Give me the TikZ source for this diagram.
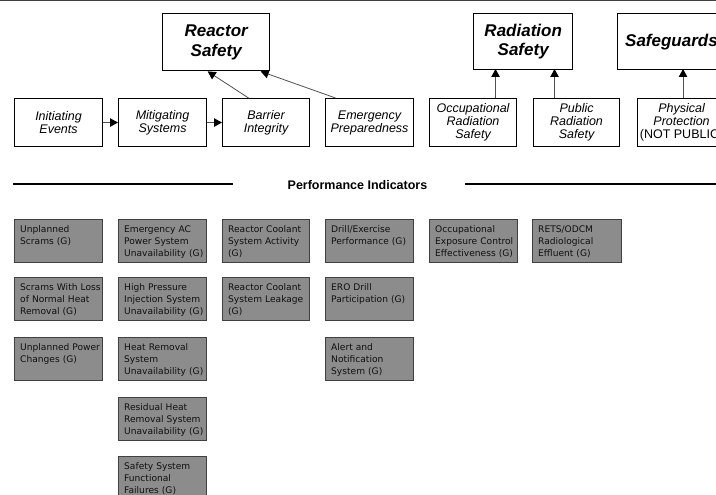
\documentclass[tikz,border=0pt]{standalone}
\usepackage{fontspec}
\setmainfont{Liberation Sans}
\newfontfamily\gfont{DejaVu Sans}
\usetikzlibrary{arrows.meta,calc}
\definecolor{gfill}{HTML}{8C8C8C}
\definecolor{gline}{HTML}{404040}
\definecolor{aline}{HTML}{505050}
\definecolor{gtxt}{HTML}{101010}
\begin{document}
\begin{tikzpicture}[x=1pt,y=-1pt,
  topbox/.style={draw=black,line width=1.4pt,fill=white,anchor=north west,inner sep=0pt},
  toptext/.style={font=\fontsize{17}{19.5}\selectfont\bfseries\itshape,align=center,inner sep=0pt},
  midbox/.style={draw=black,line width=1.1pt,fill=white,anchor=north west,inner sep=0pt,minimum height=48pt},
  midtext/.style={font=\fontsize{12.5}{13}\selectfont\itshape,align=center,inner sep=0pt},
  gbox/.style={draw=gline,line width=0.9pt,fill=gfill,anchor=north west,inner sep=0pt,minimum height=43pt},
  gtext/.style={font=\gfont\fontsize{9.1}{12}\selectfont,text=gtxt,anchor=base west,inner sep=0pt,text width=100pt,align=left},
  upar/.style={draw=aline,line width=0.8pt,-{Triangle[length=8pt,width=8.5pt,color=black]}},
  rule/.style={draw=black,line width=1.2pt}
]
\useasboundingbox (0,0) rectangle (716,495);
\clip (0,0) rectangle (716,495);
\draw[draw=gline,line width=1.5pt] (0,0.5) -- (716,0.5);
% top boxes
\node[topbox,minimum width=107pt,minimum height=57pt] (rs) at (162,13) {};
\node[toptext] (rst) at (rs.center) {Reactor\\Safety};
\node[topbox,minimum width=99pt,minimum height=56pt] (ras) at (473,13) {};
\node[toptext] (rast) at (ras.center) {Radiation\\Safety};
\node[topbox,minimum width=112pt,minimum height=56pt] (sg) at (617,13) {};
\node[toptext,anchor=west] (sgt) at ($(sg.west)+(8,0)$) {Safeguards};
% middle boxes
\node[midbox,minimum width=88pt] (ie) at (14,98) {};
\node[midtext] (iet) at (ie.center) {Initiating\\Events};
\node[midbox,minimum width=88pt] (ms) at (118,98) {};
\node[midtext] (mst) at (ms.center) {Mitigating\\Systems};
\node[midbox,minimum width=87pt] (bi) at (222,98) {};
\node[midtext] (bit) at (bi.center) {Barrier\\Integrity};
\node[midbox,minimum width=88pt] (ep) at (325,98) {};
\node[midtext] (ept) at (ep.center) {Emergency\\Preparedness};
\node[midbox,minimum width=87pt] (ors) at (429,98) {};
\node[midtext] (orst) at (ors.center) {Occupational\\Radiation\\Safety};
\node[midbox,minimum width=86pt] (prs) at (533,98) {};
\node[midtext] (prst) at (prs.center) {Public\\Radiation\\Safety};
\node[midbox,minimum width=90pt] (pp) at (637,98) {};
\node[midtext] (ppt) at ($(pp.center)+(-1,0)$) {Physical\\Protection\\{\upshape(NOT PUBLIC)}};
% arrows
\draw[upar] (ie.east) -- (ms.west);
\draw[upar] (ms.east) -- (bi.west);
\draw[upar] ($(bi.north)+(-17.5,0)$) -- ($(rs.south)+(-8.5,0)$);
\draw[upar] ($(ep.north)+(-34,0)$) -- ($(rs.south)+(44.5,0)$);
\draw[upar] ($(ors.north)+(22.5,0)$) -- ($(ors.north)+(22.5,-29)$);
\draw[upar] ($(prs.north)+(-22,0)$) -- ($(prs.north)+(-22,-29)$);
\draw[upar] ($(pp.north)+(0.5,0)$) -- ($(pp.north)+(0.5,-29)$);
% performance indicators
\node[font=\fontsize{12.5}{14}\selectfont\bfseries,inner sep=0pt] (pi) at (357.5,185) {Performance Indicators};
\coordinate (l1) at (13,184);
\coordinate (l2) at (233,184);
\coordinate (r1) at (465,184);
\coordinate (r2) at (720,184);
\draw[rule] (l1) -- (l2);
\draw[rule] (r1) -- (r2);
% gray boxes
\newcommand{\gb}[5]{%
  \node[gbox,minimum width=#3pt] (#1) at (#2) {};
  \node[gtext] (#1t) at ($(#1.north west)+(6,13.3)$) {#4};}
\gb{a1}{14,219}{88}{Unplanned\\Scrams (G)}{}
\gb{a2}{14,277}{88}{Scrams With Loss\\of Normal Heat\\Removal (G)}{}
\gb{a3}{14,337}{88}{Unplanned Power\\Changes (G)}{}
\gb{b1}{118,219}{88}{Emergency AC\\Power System\\Unavailability (G)}{}
\gb{b2}{118,277}{88}{High Pressure\\Injection System\\Unavailability (G)}{}
\gb{b3}{118,337}{88}{Heat Removal\\System\\Unavailability (G)}{}
\gb{b4}{118,397}{88}{Residual Heat\\Removal System\\Unavailability (G)}{}
\gb{b5}{118,456}{88}{Safety System\\Functional\\Failures (G)}{}
\gb{c1}{222,219}{87}{Reactor Coolant\\System Activity\\(G)}{}
\gb{c2}{222,277}{87}{Reactor Coolant\\System Leakage\\(G)}{}
\gb{d1}{325,219}{88}{Drill/Exercise\\Performance (G)}{}
\gb{d2}{325,277}{88}{ERO Drill\\Participation (G)}{}
\gb{d3}{325,337}{88}{Alert and\\Notification\\System (G)}{}
\gb{e1}{429,219}{88}{Occupational\\Exposure Control\\Effectiveness (G)}{}
\gb{f1}{532,219}{89}{RETS/ODCM\\Radiological\\Effluent (G)}{}
\end{tikzpicture}
\end{document}
